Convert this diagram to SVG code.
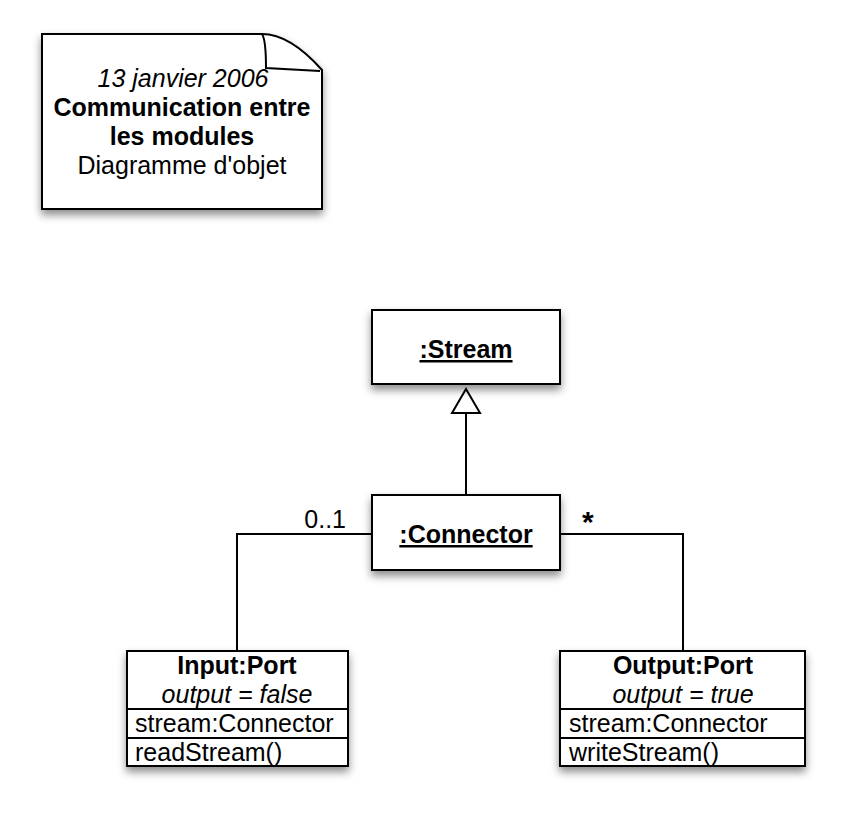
<svg xmlns="http://www.w3.org/2000/svg" width="848" height="817" viewBox="0 0 848 817">
<defs>
<filter id="sh" x="-10%" y="-10%" width="130%" height="140%">
<feDropShadow dx="0" dy="5" stdDeviation="4" flood-color="#000" flood-opacity="0.45"/>
</filter>
</defs>
<style>
.box{fill:#fff;stroke:#000;stroke-width:2}
.ln{fill:none;stroke:#000;stroke-width:2}
text{font-family:"Liberation Sans",Arial,sans-serif;font-size:25px;fill:#000}
.b{font-weight:bold}
.i{font-style:italic}
.u{text-decoration:underline}
.c{text-anchor:middle}
</style>
<rect width="848" height="817" fill="#fff"/>
<g id="note">
<path class="box" filter="url(#sh)" d="M42,34 L262,34 Q290,34 322,70 L322,209 L42,209 Z"/>
<path class="ln" d="M262,34 Q266,40 266,68 L320,71"/>
<text class="i c" x="183" y="87">13 janvier 2006</text>
<text class="b c" x="182" y="116">Communication entre</text>
<text class="b c" x="182" y="145">les modules</text>
<text class="c" x="182" y="174">Diagramme d'objet</text>
</g>
<g id="connectors">
<path class="ln" d="M466,495 L466,413"/>
<path class="ln" d="M466,389 L452,413 L480,413 Z" style="fill:#fff"/>
<path class="ln" d="M372,534 L237,534 L237,651"/>
<path class="ln" d="M560,534 L683,534 L683,651"/>
<text x="346" y="528" style="text-anchor:end">0..1</text>
<text class="b" x="582" y="532" style="font-size:30px">*</text>
</g>
<g id="stream">
<rect class="box" filter="url(#sh)" x="372" y="310" width="188" height="74"/>
<text class="b u c" x="466" y="358">:Stream</text>
</g>
<g id="connector">
<rect class="box" filter="url(#sh)" x="372" y="495" width="188" height="75"/>
<text class="b u c" x="466" y="543">:Connector</text>
</g>
<g id="input">
<rect class="box" filter="url(#sh)" x="127" y="651" width="221" height="115"/>
<path class="ln" d="M127,709 L348,709 M127,738 L348,738"/>
<text class="b c" x="237" y="674">Input:Port</text>
<text class="i c" x="237" y="703">output = false</text>
<text x="135" y="732">stream:Connector</text>
<text x="135" y="761">readStream()</text>
</g>
<g id="output">
<rect class="box" filter="url(#sh)" x="560" y="651" width="245" height="115"/>
<path class="ln" d="M560,709 L805,709 M560,738 L805,738"/>
<text class="b c" x="683" y="674">Output:Port</text>
<text class="i c" x="683" y="703">output = true</text>
<text x="569" y="732">stream:Connector</text>
<text x="569" y="761">writeStream()</text>
</g>
</svg>
